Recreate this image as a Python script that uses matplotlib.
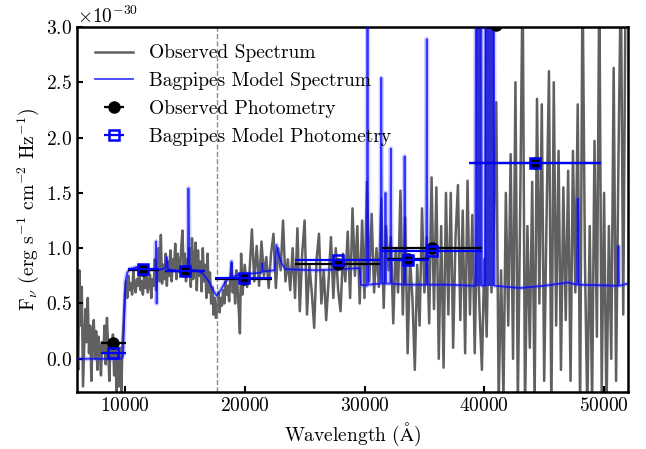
import numpy as np
import matplotlib
matplotlib.use("Agg")
import matplotlib.pyplot as plt

FLUX_UNIT = 1e-30

# observed spectrum, flux in units of 1e-30 erg/s/cm2/Hz
spec_wave_blue = [
    6000, 6100, 6200, 6300, 6400, 6500, 6600, 6700, 6800, 6900,
    7000, 7100, 7200, 7300, 7400, 7500, 7600, 7700, 7800, 7900,
    8000, 8100, 8200, 8300, 8400, 8500, 8600, 8700, 8800, 8900,
    9000, 9100, 9200, 9300, 9400, 9500, 9600, 9700, 9800, 9900,
    10000, 10100, 10200, 10300, 10400, 10500, 10600, 10700, 10800, 10900,
    11000, 11100, 11200, 11300, 11400, 11500, 11600, 11700, 11800, 11900,
    12000, 12100, 12200, 12300, 12400, 12500, 12600, 12700, 12800, 12900,
    13000, 13100, 13200, 13300, 13400, 13500, 13600, 13700, 13800, 13900,
    14000, 14100, 14200, 14300, 14400, 14500, 14600, 14700, 14800, 14900,
    15000, 15100, 15200, 15300, 15400, 15500, 15600, 15700, 15800, 15900,
    16000, 16100, 16200, 16300, 16400, 16500, 16600, 16700, 16800, 16900,
    17000, 17100, 17200, 17300, 17400, 17500, 17600, 17700, 17800, 17900,
    18000, 18100, 18200, 18300, 18400, 18500, 18600, 18700, 18800, 18900,
    19000, 19100, 19200, 19300, 19400, 19500, 19600, 19700, 19800, 19900,
]
spec_flux_blue = [
    0.20, -0.10, 0.80, 0.30, 0.65, -0.25, 0.10, 0.45, 0.15, 0.55,
    0.05, 0.30, -0.20, 0.20, 0.35, 0.00, 0.25, -0.10, 0.20, 0.10,
    -0.15, 0.15, 0.05, 0.30, -0.05, 0.37, 0.10, -0.20, 0.15, 0.00,
    0.22, -0.15, 0.10, -0.30, 0.05, -0.25, 0.10, -0.30, 0.15, 0.35,
    0.60, 0.70, 0.55, 0.75, 0.62, 0.68, 0.58, 0.80, 0.65, 0.60,
    0.72, 0.66, 0.85, 0.62, 0.70, 0.58, 0.75, 0.64, 0.82, 0.60,
    0.68, 0.76, 0.55, 0.72, 0.66, 0.90, 0.62, 0.80, 1.00, 0.70,
    1.12, 0.68, 0.85, 0.72, 0.95, 0.66, 0.88, 0.75, 0.98, 0.70,
    0.90, 0.80, 1.04, 0.72, 0.95, 0.85, 0.78, 1.00, 1.16, 0.82,
    0.95, 0.70, 0.90, 0.78, 1.00, 0.65, 1.09, 0.72, 0.90, 1.05,
    0.62, 0.98, 0.75, 0.88, 0.61, 1.00, 0.70, 0.85, 0.55, 0.95,
    0.60, 0.78, 0.50, 0.65, 0.40, 0.55, 0.37, 0.45, 0.60, 0.42,
    0.55, 0.48, 0.62, 0.50, 0.70, 0.58, 0.66, 0.52, 0.75, 0.86,
    0.60, 0.72, 0.50, 0.80, 0.65, 0.45, 0.23, 0.95, 0.58, 0.70,
]
spec_wave_red = [
    20000, 20200, 20400, 20600, 20800, 21000, 21200, 21400, 21600, 21800,
    22000, 22200, 22400, 22600, 22800, 23000, 23200, 23400, 23600, 23800,
    24000, 24200, 24400, 24600, 24800, 25000, 25200, 25400, 25600, 25800,
    26000, 26200, 26400, 26600, 26800, 27000, 27200, 27400, 27600, 27800,
    28000, 28200, 28400, 28600, 28800, 29000, 29200, 29400, 29600, 29800,
    30000, 30200, 30400, 30600, 30800, 31000, 31200, 31400, 31600, 31800,
    32000, 32200, 32400, 32600, 32800, 33000, 33200, 33400, 33600, 33800,
    34000, 34200, 34400, 34600, 34800, 35000, 35200, 35400, 35600, 35800,
    36000, 36200, 36400, 36600, 36800, 37000, 37200, 37400, 37600, 37800,
    38000, 38200, 38400, 38600, 38800, 39000, 39200, 39400, 39600, 39800,
    40000, 40200, 40400, 40600, 40800, 41000, 41200, 41400, 41600, 41800,
    42000, 42200, 42400, 42600, 42800, 43000, 43200, 43400, 43600, 43800,
    44000, 44200, 44400, 44600, 44800, 45000, 45200, 45400, 45600, 45800,
    46000, 46200, 46400, 46600, 46800, 47000, 47200, 47400, 47600, 47800,
    48000, 48200, 48400, 48600, 48800, 49000, 49200, 49400, 49600, 49800,
    50000, 50200, 50400, 50600, 50800, 51000, 51200, 51400, 51600, 51800,
]
spec_flux_red = [
    0.85, 0.65, 0.78, 1.17, 0.70, 1.02, 0.66, 1.06, 0.75, 0.92,
    0.64, 0.95, 1.13, 0.64, 1.00, 0.80, 1.25, 0.70, 0.90, 0.62,
    1.00, 0.55, 1.18, 0.43, 0.95, 1.25, 0.40, 0.85, 0.60, 0.28,
    0.90, 1.13, 0.50, 0.80, 0.35, 0.70, 1.10, 0.55, 1.00, 0.62,
    0.43, 0.95, 0.70, 1.15, 0.55, 1.36, 0.75, 1.20, 0.50, 1.25,
    0.55, 1.60, 0.70, 1.31, 0.60, 1.00, 0.65, 1.45, 0.46, 1.20,
    0.80, 1.10, 0.32, 1.00, 0.60, 1.52, 0.40, 1.28, 0.05, 0.90,
    0.55, -0.10, 0.85, 0.30, 1.36, 0.60, 1.10, 0.32, 1.64, 0.45,
    1.55, 0.00, 1.20, -0.08, 1.50, 0.40, 1.50, 0.10, 1.10, 1.57,
    0.35, 1.34, 0.05, 1.61, 0.40, 1.30, 0.05, 1.20, 0.45, -0.10,
    0.90, 0.20, 1.50, 0.60, 1.20, 2.32, -0.40, 0.80, -0.35, 1.50,
    0.30, 1.85, 0.00, 2.50, -0.40, 1.40, 3.50, -0.50, 1.20, 0.10,
    1.60, -0.40, 2.35, 0.50, 2.30, -0.20, 1.30, 2.60, -0.50, 2.50,
    0.30, 1.88, -0.10, 1.55, 0.35, 1.70, -0.20, 1.88, 0.60, 2.30,
    -0.50, 3.50, 0.90, -0.50, 1.20, -0.40, 1.97, 0.20, 3.50, -0.30,
    1.50, -0.50, 1.20, 0.00, 2.63, -0.20, 1.80, 3.50, 0.40, 3.50,
]

# Bagpipes model spectrum (continuum + emission lines)
model_wave = [
    6000, 9700, 9850, 9950, 10050, 10200, 10400, 11000, 11600, 12200,
    12550, 12600, 12650, 12700, 13400, 13500, 13600, 14500, 15250, 15300,
    15400, 16000, 16500, 17000, 17300, 17650, 18000, 18400, 18850, 18900,
    18950, 19500, 20500, 21400, 21450, 21500, 22500, 22650, 22800, 23100,
    23400, 26000, 28000, 29600, 29700, 30200, 30250, 30300, 31350, 31400,
    31450, 31700, 31750, 31800, 32150, 32200, 32250, 33300, 33350, 33400,
    35150, 35200, 35250, 37000, 39250, 39300, 39750, 39800, 40050, 40100,
    40800, 40850, 43000, 45000, 47000, 47750, 47800, 47850, 51150, 51200,
    51250, 52000,
]
model_flux = [
    0.00, 0.00, 0.03, 0.40, 0.70, 0.78, 0.81, 0.83, 0.82, 0.80,
    0.82, 1.06, 0.50, 0.80, 0.82, 0.92, 0.81, 0.79, 0.80, 1.54,
    0.80, 0.80, 0.77, 0.70, 0.63, 0.57, 0.62, 0.70, 0.74, 0.88,
    0.74, 0.76, 0.77, 0.78, 0.86, 0.79, 0.80, 1.03, 0.95, 0.86,
    0.81, 0.80, 0.81, 0.82, 0.67, 0.66, 3.50, 0.67, 0.68, 2.54,
    0.68, 0.68, 1.50, 0.68, 0.68, 1.90, 0.68, 0.67, 1.83, 0.67,
    0.67, 2.89, 0.67, 0.67, 0.66, 3.50, 3.50, 0.66, 0.66, 3.50,
    3.50, 0.66, 0.64, 0.66, 0.69, 0.67, 1.45, 0.67, 0.66, 1.02,
    0.66, 0.68,
]
model_cont_level = 0.66  # base of the broad saturated lines near 4 micron

# photometry
phot_wave = [9030, 11550, 15000, 19900, 27750, 33600, 35650, 44230, 40950]
phot_werr = [1020, 1330, 1670, 2370, 3520, 1750, 4180, 5500, 600]
phot_flux = [0.14, 0.80, 0.79, 0.72, 0.86, 0.90, 1.00, 1.77, 3.02]
model_phot_flux = [0.05, 0.81, 0.79, 0.73, 0.89, 0.89, 0.97, 1.77, 3.40]

break_wave = 17700

plt.rcParams.update({
    "font.family": "serif",
    "font.serif": ["cmr10"],
    "mathtext.fontset": "cm",
    "axes.formatter.use_mathtext": True,
    "axes.unicode_minus": False,
    "font.size": 14,
})


def main():
    fig = plt.figure(figsize=(6.46, 4.49), dpi=100)
    ax = fig.add_axes([0.1192, 0.127, 0.853, 0.813])

    wave = np.array(spec_wave_blue + spec_wave_red)
    flux = np.array(spec_flux_blue + spec_flux_red) * FLUX_UNIT
    l_obs, = ax.plot(wave, flux, color="#606060", lw=1.8, zorder=1)

    mw = np.array(model_wave)
    mf = np.array(model_flux) * FLUX_UNIT
    ax.plot(mw, mf, color="#4a4aff", lw=3.5, alpha=0.25, zorder=2)
    ax.fill_between(mw, model_cont_level * FLUX_UNIT, mf, where=mf >= 3.0 * FLUX_UNIT,
                    color="#2b2bd8", lw=0, zorder=2)
    l_mod, = ax.plot(mw, mf, color="blue", lw=1.3, alpha=0.75, zorder=3)

    ax.axvline(break_wave, color="gray", lw=1.0, ls="--", alpha=0.9, zorder=2.5)

    pw = np.array(phot_wave)
    pe = np.array(phot_werr)
    e_obs = ax.errorbar(pw, np.array(phot_flux) * FLUX_UNIT, xerr=pe, fmt="o",
                        color="black", ms=8, elinewidth=1.6, capsize=0, zorder=4)
    e_mod = ax.errorbar(pw, np.array(model_phot_flux) * FLUX_UNIT, xerr=pe, fmt="s",
                        mfc="none", mec="blue", ecolor="blue", ms=7, mew=1.8,
                        elinewidth=1.6, capsize=0, zorder=5)

    ax.set_xlim(6000, 52000)
    ax.set_ylim(-0.3 * FLUX_UNIT, 3.0 * FLUX_UNIT)
    ax.set_xticks([10000, 20000, 30000, 40000, 50000])
    ax.set_yticks(np.array([0.0, 0.5, 1.0, 1.5, 2.0, 2.5, 3.0]) * FLUX_UNIT)
    ax.tick_params(direction="in", length=4, width=1.5)
    for sp in ax.spines.values():
        sp.set_linewidth(1.8)

    ax.set_xlabel(r"Wavelength ($\mathrm{\AA}$)")
    ax.set_ylabel(r"F$_\nu$ (erg s$^{-1}$ cm$^{-2}$ Hz$^{-1}$)")

    ax.legend([l_obs, l_mod, e_obs, e_mod],
              ["Observed Spectrum", "Bagpipes Model Spectrum",
               "Observed Photometry", "Bagpipes Model Photometry"],
              loc="upper left", frameon=False)

    fig.savefig("out.png", dpi=100)


if __name__ == "__main__":
    main()
